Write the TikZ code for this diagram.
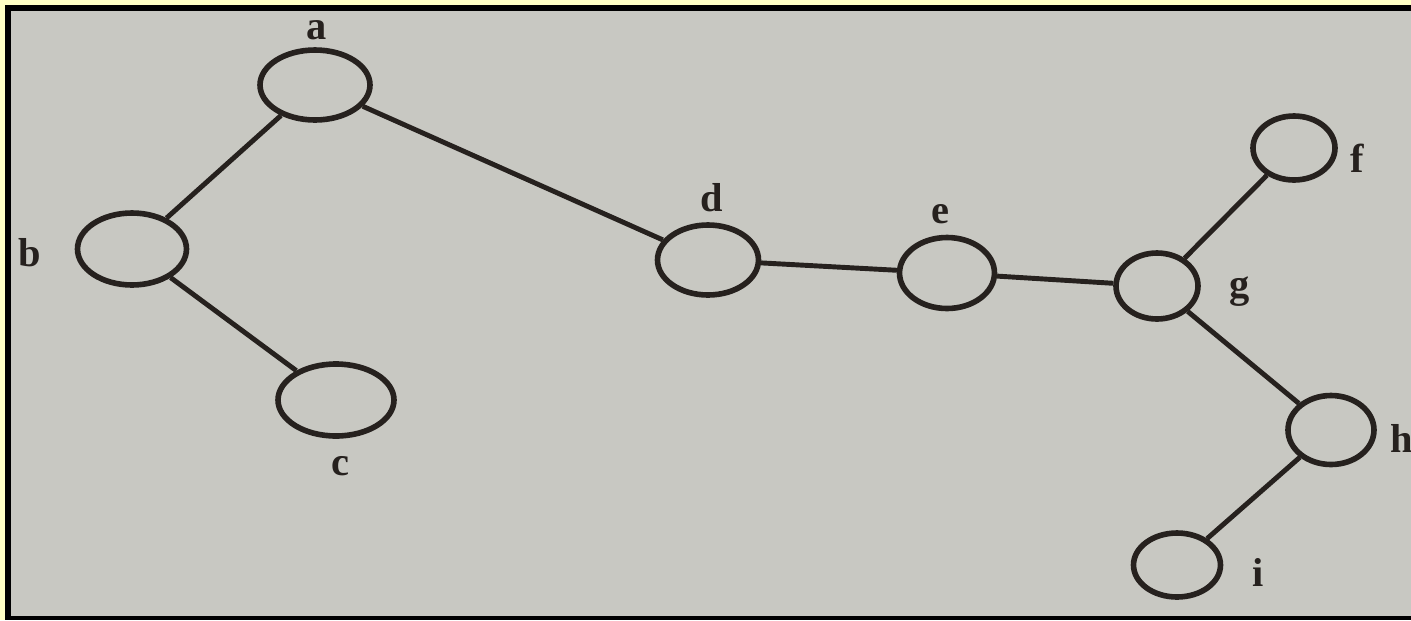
\documentclass[tikz,border=0pt]{standalone}
\usepackage{fontspec}
\setmainfont{Liberation Serif}
\usetikzlibrary{shapes.geometric}
\definecolor{ink}{RGB}{38,33,30}
\definecolor{paper}{RGB}{200,200,194}
\definecolor{frameyellow}{RGB}{255,255,196}
\tikzset{
  vtx/.style={ellipse, draw=ink, line width=3.2pt, inner sep=0pt},
  lbl/.style={text=ink, font=\fontsize{23}{26}\selectfont\bfseries, inner sep=0pt},
  edge/.style={draw=ink, line width=2.8pt}
}
\begin{document}
\begin{tikzpicture}[x=0.02cm,y=-0.02cm]
\useasboundingbox (0,0) rectangle (1411,620);
\fill[frameyellow] (0,0) rectangle (1411,620);
\fill[black] (5,5) rectangle (1411,620);
\fill[paper] (11,11) rectangle (1411,616);
% nodes
\node[vtx, minimum width=2.2cm, minimum height=1.4cm] (a) at (315,85) {};
\node[vtx, minimum width=2.18cm, minimum height=1.44cm] (b) at (132,249) {};
\node[vtx, minimum width=2.32cm, minimum height=1.44cm] (c) at (336,400) {};
\node[vtx, minimum width=2.02cm, minimum height=1.4cm] (d) at (708,260) {};
\node[vtx, minimum width=1.9cm, minimum height=1.42cm] (e) at (947,273) {};
\node[vtx, minimum width=1.64cm, minimum height=1.28cm] (f) at (1294,148) {};
\node[vtx, minimum width=1.64cm, minimum height=1.32cm] (g) at (1157,286) {};
\node[vtx, minimum width=1.72cm, minimum height=1.38cm] (h) at (1331,430) {};
\node[vtx, minimum width=1.74cm, minimum height=1.28cm] (i) at (1177,565) {};
% edges
\draw[edge] (a) -- (b);
\draw[edge] (a) -- (d);
\draw[edge] (b) -- (c);
\draw[edge] (d) -- (e);
\draw[edge] (e) -- (g);
\draw[edge] (g) -- (f);
\draw[edge] (g) -- (h);
\draw[edge] (h) -- (i);
% labels
\node[lbl] (la) at (317,30) {a};
\node[lbl] (lb) at (30,253) {b};
\node[lbl] (lc) at (340,466) {c};
\node[lbl] (ld) at (712,198) {d};
\node[lbl] (le) at (940,214) {e};
\node[lbl] (lf) at (1357,158) {f};
\node[lbl] (lg) at (1240,292) {g};
\node[lbl] (lh) at (1402,438) {h};
\node[lbl] (li) at (1258,572) {i};
\end{tikzpicture}
\end{document}
